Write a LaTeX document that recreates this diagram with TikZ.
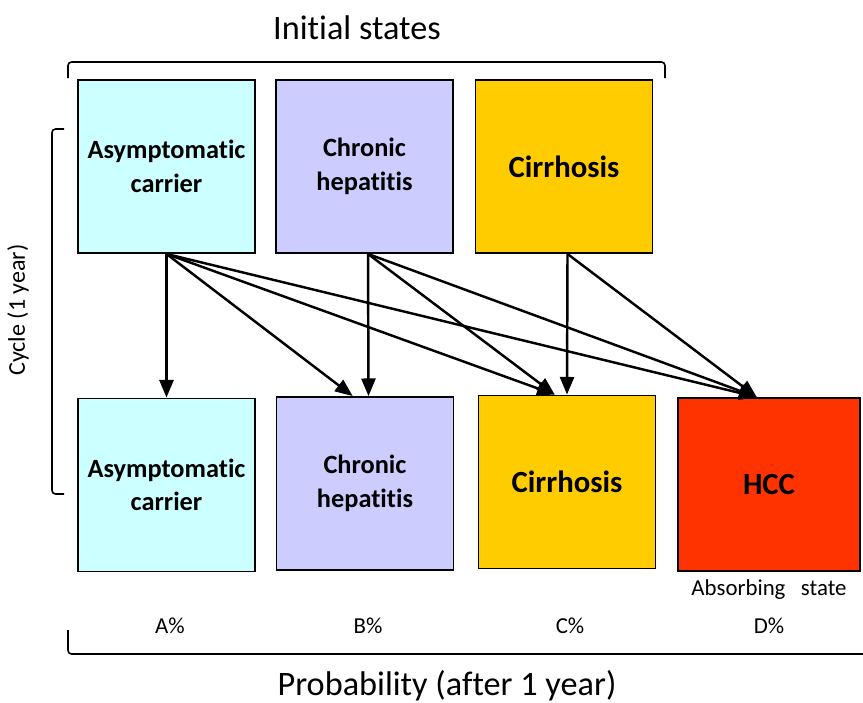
\documentclass[tikz,border=0pt]{standalone}
\usepackage{fontspec}
\setmainfont{Carlito}[Ligatures=NoCommon]
\usetikzlibrary{arrows.meta}
\definecolor{carrierC}{HTML}{CCFFFF}
\definecolor{chronicC}{HTML}{CCCCFF}
\definecolor{cirrhosisC}{HTML}{FFCC00}
\definecolor{hccC}{HTML}{FF3300}
\begin{document}
\begin{tikzpicture}[x=0.02cm,y=-0.02cm,
	statebox/.style={draw=black,line width=1.1pt,align=center,inner sep=0pt,
		minimum width=3.54cm,minimum height=3.46cm,
		font=\fontsize{15}{19}\selectfont\bfseries},
	bigstate/.style={statebox,font=\fontsize{17.5}{21}\selectfont\bfseries},
	trans/.style={line width=1.4pt,-{Triangle[length=10pt,width=8pt]}},
	bracket/.style={line width=0.9pt,rounded corners=2pt},
	pct/.style={font=\fontsize{13}{15}\selectfont}]
	% 设置图的边界
	\useasboundingbox (0,0) rectangle (863,703);
	% 设置箭头终点的偏移
	\def\shiftCH{-7}
	\def\shiftCI{-7}
	\def\shiftHCC{-7}

	% 初始状态（上排）
	\node[statebox,fill=carrierC] (ac1) at (166.5,166.5) {Asymptomatic\\carrier};
	\node[statebox,fill=chronicC] (ch1) at (364.5,166.5) {Chronic\\hepatitis};
	\node[bigstate,fill=cirrhosisC] (ci1) at (564,166.5) {Cirrhosis};

	% 一年后的状态（下排）
	\node[statebox,fill=carrierC] (ac2) at (166.5,485) {Asymptomatic\\carrier};
	\node[statebox,fill=chronicC] (ch2) at (365,483.5) {Chronic\\hepatitis};
	\node[bigstate,fill=cirrhosisC] (ci2) at (567,482) {Cirrhosis};
	\node[bigstate,fill=hccC,minimum width=3.64cm] (hcc) at (769,484.5) {HCC};

	% 状态之间的转移
	\draw[trans] (ac1.south) -- (ac2.north);
	\draw[trans] (ac1.south) -- ([xshift=\shiftCH]ch2.north);
	\draw[trans] (ac1.south) -- ([xshift=\shiftCI]ci2.north);
	\draw[trans] (ac1.south) -- ([xshift=\shiftHCC]hcc.north);
	\draw[trans] ([xshift=2]ch1.south) -- ([xshift=2]ch2.north);
	\draw[trans] ([xshift=2]ch1.south) -- ([xshift=\shiftCI]ci2.north);
	\draw[trans] ([xshift=2]ch1.south) -- ([xshift=\shiftHCC]hcc.north);
	\draw[trans] ([xshift=2]ci1.south) -- (ci2.north);
	\draw[trans] ([xshift=2]ci1.south) -- ([xshift=\shiftHCC]hcc.north);

	% 括号
	\draw[bracket] (68,78) -- (68,62) -- (665,62) -- (665,78);
	\draw[bracket] (64,129) -- (52,129) -- (52,494) -- (64,494);
	\draw[bracket] (68,630) -- (68,654) -- (863,654);

	% 标题和说明文字
	\node[font=\fontsize{19.5}{22}\selectfont] (initTitle) at (357,28) {Initial states};
	\node[font=\fontsize{19.5}{22}\selectfont] (probTitle) at (447,686) {Probability (after 1 year)};
	\node[font=\fontsize{13.7}{16}\selectfont,rotate=90] (cycleTitle) at (18,310) {Cycle (1 year)};
	\node[pct] (absorb) at (769,590) {Absorbing\ \ \ state};

	% 每个状态的概率
	\node[pct] (pA) at (170,626) {A\%};
	\node[pct] (pB) at (368,626) {B\%};
	\node[pct] (pC) at (570,626) {C\%};
	\node[pct] (pD) at (769,626) {D\%};
\end{tikzpicture}
\end{document}
